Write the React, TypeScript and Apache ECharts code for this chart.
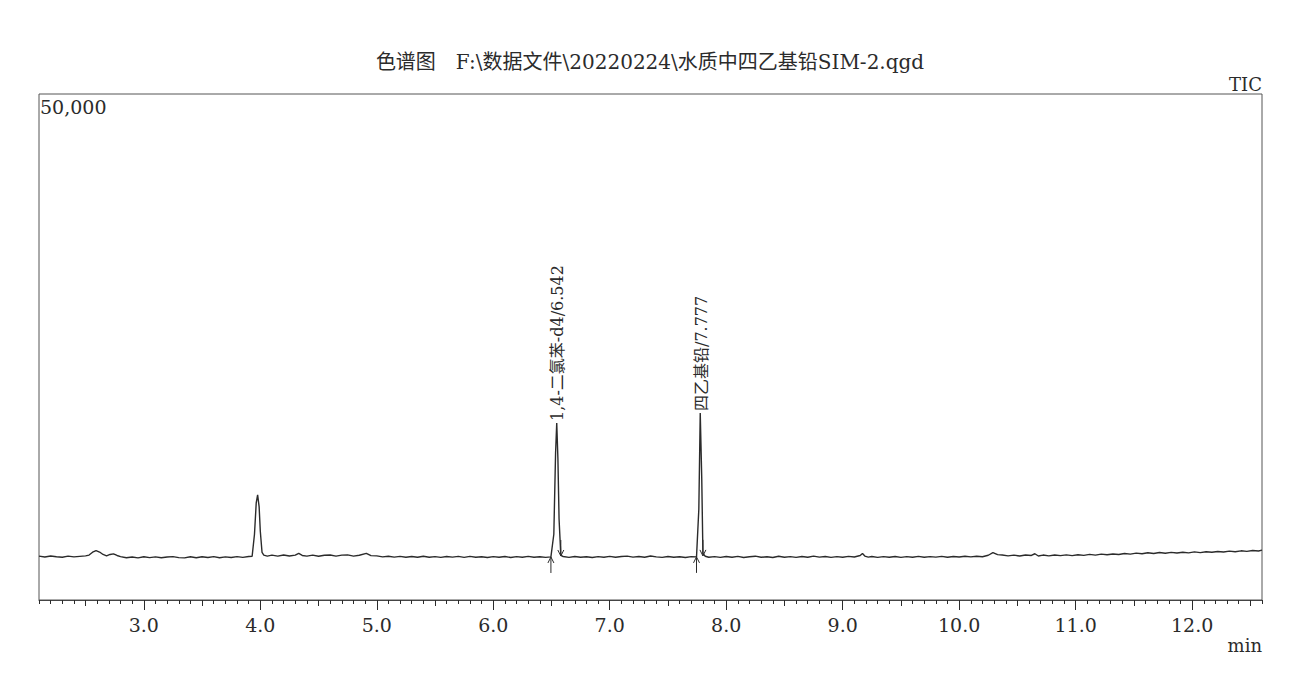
import React, { useEffect, useRef } from "react";
import * as echarts from "echarts";

const TITLE = "色谱图　F:\\数据文件\\20220224\\水质中四乙基铅SIM-2.qgd";
const CHANNEL = "TIC";
const Y_MAX_LABEL = "50,000";
const X_UNIT = "min";

const X_MIN = 2.1;
const X_MAX = 12.6;
const Y_MIN = 0;
const Y_MAX = 50000;

const MAJOR_TICKS = [3, 4, 5, 6, 7, 8, 9, 10, 11, 12];
const HALF_TICKS = [2.5, 3.5, 4.5, 5.5, 6.5, 7.5, 8.5, 9.5, 10.5, 11.5, 12.5];

// [retention time (min), intensity]
const TRACE: [number, number][] = [
  [2.10, 4330], [2.15, 4250], [2.20, 4350], [2.25, 4270], [2.30, 4230], [2.35, 4340],
  [2.40, 4260], [2.45, 4310], [2.50, 4360], [2.53, 4440], [2.56, 4720], [2.59, 4880],
  [2.62, 4740], [2.65, 4500], [2.68, 4360], [2.71, 4500], [2.74, 4560], [2.77, 4400],
  [2.80, 4290], [2.85, 4170], [2.90, 4250], [2.95, 4160], [3.00, 4270], [3.05, 4190],
  [3.10, 4260], [3.15, 4170], [3.20, 4250], [3.25, 4290], [3.30, 4190], [3.35, 4160],
  [3.40, 4270], [3.45, 4180], [3.50, 4280], [3.55, 4200], [3.60, 4290], [3.65, 4180],
  [3.70, 4260], [3.75, 4200], [3.80, 4290], [3.85, 4210], [3.90, 4300], [3.93, 4330],
  [3.95, 6500], [3.965, 9600], [3.977, 10380], [3.99, 9200], [4.00, 6800], [4.015, 4700],
  [4.03, 4440], [4.06, 4340], [4.10, 4440], [4.15, 4330], [4.20, 4450], [4.25, 4350],
  [4.30, 4440], [4.33, 4600], [4.36, 4400], [4.40, 4340], [4.45, 4440], [4.50, 4320],
  [4.55, 4420], [4.60, 4450], [4.65, 4330], [4.70, 4430], [4.75, 4460], [4.80, 4340],
  [4.85, 4420], [4.91, 4610], [4.95, 4380], [5.00, 4360], [5.05, 4260], [5.10, 4320],
  [5.15, 4240], [5.20, 4310], [5.25, 4230], [5.30, 4300], [5.35, 4220], [5.40, 4320],
  [5.45, 4230], [5.50, 4290], [5.55, 4210], [5.60, 4300], [5.65, 4240], [5.70, 4310],
  [5.75, 4210], [5.80, 4310], [5.85, 4230], [5.90, 4280], [5.95, 4200], [6.00, 4290],
  [6.05, 4220], [6.10, 4300], [6.15, 4200], [6.20, 4290], [6.25, 4230], [6.30, 4310],
  [6.35, 4220], [6.40, 4270], [6.45, 4210], [6.495, 4260], [6.52, 6500], [6.535, 14500],
  [6.545, 17490], [6.555, 14000], [6.565, 8000], [6.58, 4400], [6.60, 4300], [6.65, 4210],
  [6.70, 4300], [6.75, 4220], [6.80, 4280], [6.85, 4200], [6.90, 4290], [6.95, 4230],
  [7.00, 4310], [7.05, 4220], [7.10, 4300], [7.15, 4340], [7.20, 4240], [7.25, 4300],
  [7.30, 4230], [7.35, 4350], [7.40, 4260], [7.45, 4210], [7.50, 4300], [7.55, 4220],
  [7.60, 4280], [7.65, 4200], [7.70, 4290], [7.745, 4260], [7.765, 9000], [7.777, 18480],
  [7.79, 12000], [7.80, 4600], [7.82, 4320], [7.85, 4220], [7.90, 4290], [7.95, 4210],
  [8.00, 4300], [8.05, 4230], [8.10, 4310], [8.15, 4200], [8.20, 4280], [8.25, 4330],
  [8.30, 4220], [8.35, 4280], [8.40, 4200], [8.45, 4320], [8.50, 4230], [8.55, 4290],
  [8.60, 4210], [8.65, 4300], [8.70, 4230], [8.75, 4340], [8.80, 4240], [8.85, 4300],
  [8.90, 4210], [8.95, 4290], [9.00, 4230], [9.05, 4310], [9.10, 4250], [9.15, 4400],
  [9.17, 4600], [9.19, 4340], [9.22, 4240], [9.25, 4300], [9.30, 4210], [9.35, 4290],
  [9.40, 4220], [9.45, 4300], [9.50, 4210], [9.55, 4290], [9.60, 4230], [9.65, 4310],
  [9.70, 4220], [9.75, 4290], [9.80, 4240], [9.85, 4310], [9.90, 4230], [9.95, 4300],
  [10.00, 4250], [10.05, 4320], [10.10, 4260], [10.15, 4330], [10.20, 4270], [10.25, 4420],
  [10.29, 4690], [10.33, 4480], [10.37, 4440], [10.42, 4360], [10.47, 4430], [10.52, 4350],
  [10.57, 4450], [10.62, 4400], [10.65, 4570], [10.68, 4350], [10.72, 4440], [10.77, 4360],
  [10.82, 4450], [10.87, 4380], [10.92, 4460], [10.97, 4390], [11.02, 4470], [11.07, 4410],
  [11.12, 4510], [11.17, 4430], [11.22, 4530], [11.27, 4470], [11.32, 4550], [11.37, 4500],
  [11.42, 4600], [11.47, 4530], [11.52, 4630], [11.57, 4570], [11.62, 4670], [11.67, 4600],
  [11.72, 4690], [11.77, 4620], [11.82, 4710], [11.87, 4650], [11.92, 4720], [11.97, 4660],
  [12.02, 4750], [12.07, 4680], [12.12, 4770], [12.17, 4720], [12.22, 4790], [12.27, 4740],
  [12.32, 4830], [12.37, 4770], [12.42, 4860], [12.47, 4810], [12.52, 4890], [12.57, 4840],
  [12.60, 4930],
];

// Identified peaks
const PEAK_LABELS = ["1,4-二氯苯-d4/6.542", "四乙基铅/7.777"];
const PEAK_APEX_RT = [6.545, 7.777];
const PEAK_APEX_HEIGHT = [17490, 18480];
const PEAK_START_RT = [6.495, 7.745];
const PEAK_END_RT = [6.58, 7.80];
const PEAK_BASE = [4250, 4260];

const SERIF = "'DejaVu Serif', 'Liberation Serif', 'Noto Sans CJK SC', serif";
const INK = "#2b2b2b";

function minorTicks(): number[] {
  const out: number[] = [];
  for (let i = 0; i <= Math.round((X_MAX - X_MIN) * 10); i++) {
    out.push(Math.round((X_MIN + i * 0.1) * 10) / 10);
  }
  return out;
}

function tickAxis(values: number[], len: number, labels: boolean) {
  return {
    type: "value",
    min: X_MIN,
    max: X_MAX,
    position: "bottom",
    axisLine: { show: false },
    splitLine: { show: false },
    axisTick: { show: true, customValues: values, length: len, lineStyle: { color: INK, width: 1 } },
    axisLabel: labels
      ? {
          show: true,
          customValues: values,
          margin: 15,
          fontSize: 19,
          fontFamily: SERIF,
          color: INK,
          formatter: (v: number) => v.toFixed(1),
        }
      : { show: false },
  };
}

export default function App() {
  const ref = useRef<HTMLDivElement>(null);

  useEffect(() => {
    if (!ref.current) return;
    const chart = echarts.init(ref.current, null, { renderer: "svg" });
    const option: any = {
      animation: false,
      backgroundColor: "#ffffff",
      grid: {
        left: 39,
        right: 34,
        top: 94,
        bottom: 97,
        show: true,
        borderColor: "#555",
        borderWidth: 1,
        backgroundColor: "transparent",
      },
      xAxis: [
        {
          ...tickAxis(minorTicks(), 4, false),
          axisLine: { show: true, lineStyle: { color: "#444", width: 1 } },
        },
        tickAxis(HALF_TICKS, 6, false),
        tickAxis(MAJOR_TICKS, 10, true),
      ],
      yAxis: {
        type: "value",
        min: Y_MIN,
        max: Y_MAX,
        axisLine: { show: false },
        axisTick: { show: false },
        axisLabel: { show: false },
        splitLine: { show: false },
      },
      series: [
        {
          type: "line",
          xAxisIndex: 0,
          data: TRACE,
          showSymbol: false,
          symbol: "none",
          lineStyle: { color: INK, width: 1.4 },
        },
      ],
    };
    chart.setOption(option);

    const px = (t: number, v: number) => chart.convertToPixel({ seriesIndex: 0 }, [t, v]) as number[];
    const txt = (text: string, x: number, y: number, size: number, align: string) => ({
      type: "text",
      x,
      y,
      style: {
        text,
        fontSize: size,
        fontFamily: SERIF,
        fill: INK,
        align,
        verticalAlign: "middle",
        textAlign: align,
        textVerticalAlign: "middle",
      },
    });
    const graphics: any[] = [
      txt(TITLE, 650, 62, 20, "center"),
      txt(CHANNEL, 1262, 84, 18, "right"),
      txt(Y_MAX_LABEL, 40, 107, 19, "left"),
      txt(X_UNIT, 1262, 645, 18, "right"),
    ];

    PEAK_LABELS.forEach((label, i) => {
      const apex = px(PEAK_APEX_RT[i], PEAK_APEX_HEIGHT[i]);
      graphics.push({
        type: "text",
        x: apex[0] + 1,
        y: apex[1] - 2,
        rotation: Math.PI / 2,
        style: {
          text: label,
          fontSize: 16,
          fontFamily: SERIF,
          fill: INK,
          align: "left",
          verticalAlign: "middle",
          textAlign: "left",
          textVerticalAlign: "middle",
        },
      });
      const s = px(PEAK_START_RT[i], PEAK_BASE[i]);
      const e = px(PEAK_END_RT[i], PEAK_BASE[i]);
      const ls = { stroke: INK, lineWidth: 1, fill: "none" };
      // up arrow at peak start
      graphics.push({ type: "line", shape: { x1: s[0], y1: s[1] + 16, x2: s[0], y2: s[1] }, style: ls });
      graphics.push({ type: "polyline", shape: { points: [[s[0] - 3, s[1] + 6], [s[0], s[1]], [s[0] + 3, s[1] + 6]] }, style: ls });
      // down arrow at peak end
      graphics.push({ type: "line", shape: { x1: e[0], y1: e[1] - 17, x2: e[0], y2: e[1] - 1 }, style: ls });
      graphics.push({ type: "polyline", shape: { points: [[e[0] - 3, e[1] - 7], [e[0], e[1] - 1], [e[0] + 3, e[1] - 7]] }, style: ls });
    });

    chart.setOption({ graphic: graphics });

    return () => chart.dispose();
  }, []);

  return (
    <div
      ref={ref}
      style={{ position: "absolute", left: 0, top: 0, width: 1296, height: 697, background: "#fff" }}
    />
  );
}
